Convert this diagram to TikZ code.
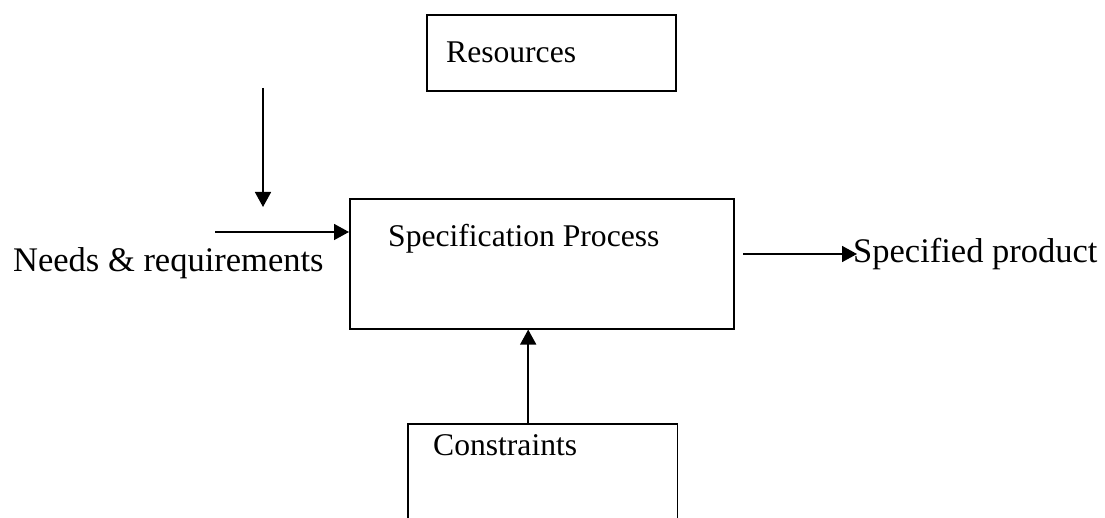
\documentclass[tikz,border=0pt]{standalone}
\usepackage{fontspec}
\setmainfont{Liberation Serif}
\usetikzlibrary{arrows.meta}
\begin{document}
\begin{tikzpicture}[x=1pt,y=-1pt,
  box/.style={draw=black, line width=1.6pt, inner sep=0pt, rectangle},
  frame/.style={draw=none, inner sep=0pt, rectangle},
  arr/.style={line width=1.6pt, -{Triangle[length=15pt,width=16pt]}},
  lbl/.style={inner sep=0pt, anchor=base west, font=\fontsize{31.6}{36}\selectfont},
  biglbl/.style={inner sep=0pt, anchor=base west, font=\fontsize{34.5}{40}\selectfont}]
  \useasboundingbox (0,0) rectangle (1105,518);
  \fill[white] (0,0) rectangle (1105,518);

  % boxes
  \node[box, minimum width=249pt, minimum height=76pt, anchor=north west] (res) at (426,14) {};
  \node[box, minimum width=384pt, minimum height=130pt, anchor=north west] (spec) at (349,198) {};
  \node[frame, minimum width=269pt, minimum height=94pt, anchor=north west] (constr) at (408,424) {};
  \draw[line width=1.6pt] (constr.south west) |- (constr.north east) -- (constr.south east);

  % texts
  \node[lbl] (resTxt) at (446,63) {Resources};
  \node[lbl] (specTxt) at (388,247) {Specification Process};
  \node[lbl] (constrTxt) at (433,455) {Constraints};
  \node[biglbl] (needs) at (13,272) {Needs \& requirements};
  \node[biglbl] (product) at (853,263) {Specified product};

  % free ends of the connectors
  \coordinate (downTop) at (263,88);
  \coordinate (downEnd) at (263,207);
  \coordinate (needsStart) at (215,232);
  \coordinate (outStart) at (743,254);
  \coordinate (outEnd) at (857,254);

  % connectors
  \draw[arr] (downTop) -- (downEnd);
  \draw[arr] (needsStart) -- (needsStart -| spec.west);
  \draw[arr] ([xshift=-14.5pt]constr.north) -- ([xshift=-14.5pt]constr.north |- spec.south);
  \draw[arr] (outStart) -- (outEnd);
\end{tikzpicture}
\end{document}
